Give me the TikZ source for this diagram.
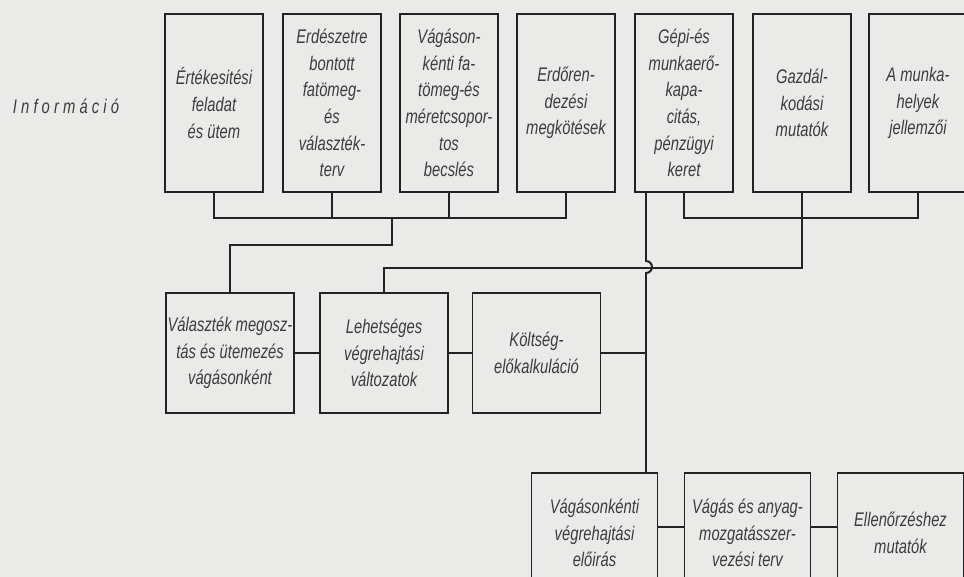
\documentclass[tikz,border=0pt]{standalone}
\usepackage{fontspec}
\setmainfont{Liberation Sans}[FakeStretch=0.75]
\usepackage{tikz}
\definecolor{papir}{RGB}{234,234,232}
\definecolor{tinta}{RGB}{35,35,35}
\definecolor{betu}{RGB}{60,60,60}

\begin{document}
\begin{tikzpicture}[x=0.25mm,y=-0.25mm]
            \tikzstyle{every node}+=[inner sep=0pt]
            \tikzstyle{doboz}=[draw=tinta,line width=1.4pt,fill=papir,text=betu,align=center,font=\itshape\fontsize{14}{19}\selectfont]
            \tikzstyle{felso}=[doboz,minimum width=24.4mm,minimum height=44.5mm]
            \tikzstyle{kozep}=[doboz,minimum width=32mm,minimum height=30mm]
            \tikzstyle{also}=[doboz,minimum width=31.5mm,minimum height=30mm]
            \tikzstyle{vonal}=[draw=tinta,line width=1.4pt]
            \useasboundingbox (0,0) rectangle (964,577);
            \clip (0,0) rectangle (964,577);
            \fill [papir] (0,0) rectangle (964,577);
            % informacio
            \node (info) at (66,106) [text=betu,font=\itshape\fontsize{14}{19}\selectfont\addfontfeature{LetterSpace=21}] {Információ};
            \node (i1) at (214,103) [felso] {Értékesitési\\feladat\\és ütem};
            \node (i2) at (332,103) [felso] {Erdészetre\\bontott\\fatömeg-\\és\\választék-\\terv};
            \node (i3) at (449,103) [felso] {Vágáson-\\kénti fa-\\tömeg-és\\méretcsopor-\\tos\\becslés};
            \node (i4) at (566,103) [felso] {Erdőren-\\dezési\\megkötések};
            \node (i5) at (684,103) [felso] {Gépi-és\\munkaerő-\\kapa-\\citás,\\pénzügyi\\keret};
            \node (i6) at (802,103) [felso] {Gazdál-\\kodási\\mutatók};
            \node (i7) at (918,103) [felso] {A munka-\\helyek\\jellemzői};
            % tervezes
            \node (m1) at (230,353) [kozep] {Választék megosz-\\tás és ütemezés\\vágásonként};
            \node (m2) at (384,353) [kozep] {Lehetséges\\végrehajtási\\változatok};
            \node (m3) at (536.5,353) [kozep] {Költség-\\előkalkuláció};
            \node (v1) at (594.5,533) [also] {Vágásonkénti\\végrehajtási\\előirás};
            \node (v2) at (747.5,533) [also] {Vágás és anyag-\\mozgatásszer-\\vezési terv};
            \node (v3) at (900.5,533) [also] {Ellenőrzéshez\\mutatók};
            % osszekotesek
            \coordinate (e1) at (392,217);
            \coordinate (k1) at (646,192);
            \coordinate (k2) at (646,473);
            \draw [vonal] (i1.south) -- ++(0,25) -| (i4.south);
            \draw [vonal] (i2.south) -- ++(0,25);
            \draw [vonal] (i3.south) -- ++(0,25);
            \draw [vonal] (e1) -- ++(0,28) -| (m1.north);
            \draw [vonal] (i5.south) -- ++(0,25) -| (i7.south);
            \draw [vonal] (i6.south) -- ++(0,75) -| (m2.north);
            \draw [vonal] (k1) -- ++(0,69) arc [start angle=-90,end angle=90,radius=6] -- (k2);
            \draw [vonal] (m1.east) -- (m2.west);
            \draw [vonal] (m2.east) -- (m3.west);
            \draw [vonal] (m3.east) -- (m3.east -| k1);
            \draw [vonal] ([yshift=1.5mm]v1.east) -- ([yshift=1.5mm]v2.west);
            \draw [vonal] ([yshift=1.5mm]v2.east) -- ([yshift=1.5mm]v3.west);
          \end{tikzpicture}
\end{document}
